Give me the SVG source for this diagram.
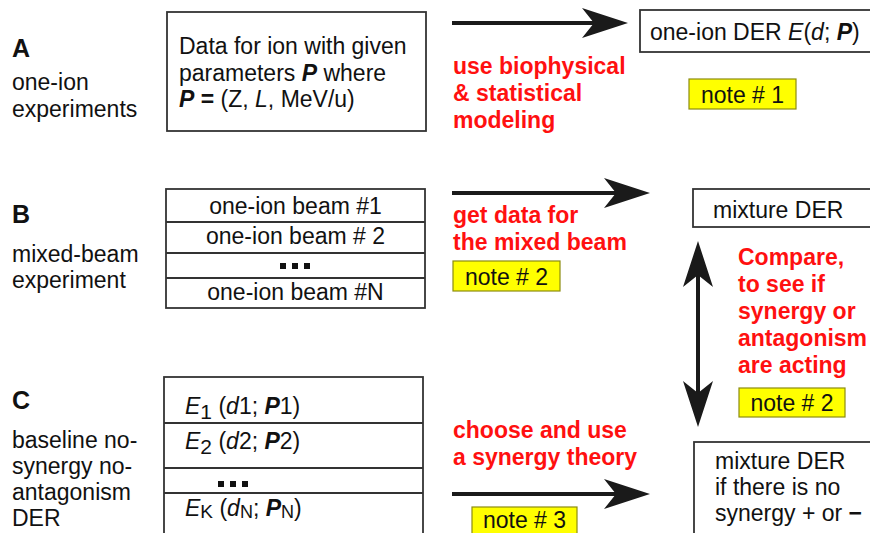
<svg xmlns="http://www.w3.org/2000/svg" width="870" height="533" viewBox="0 0 870 533">
<defs>
<style>
text{font-family:"Liberation Sans",Arial,sans-serif;font-size:23px;fill:#111}
.lab{font-weight:bold;font-size:25px}
.red{fill:#ff1010;font-weight:bold}
.box{fill:#fff;stroke:#333;stroke-width:1.8}
.note{fill:#ffff00;stroke:#8c8c10;stroke-width:1.2}
.arr{stroke:#1a1a1a;stroke-width:4;fill:none}
.i{font-style:italic}
.b{font-weight:bold}
.bi{font-weight:bold;font-style:italic}
.sq{fill:#111}
</style>
<marker id="ah" viewBox="0 0 46 30" refX="21" refY="15" markerWidth="46" markerHeight="30" markerUnits="userSpaceOnUse" orient="auto-start-reverse">
<path d="M0,0 L46,15 L0,30 L12,15 Z" fill="#1a1a1a"/>
</marker>
</defs>
<rect width="870" height="533" fill="#fff"/>

<g id="labelA">
<text x="12" y="57" class="lab">A</text>
<text x="12" y="90">one-ion</text>
<text x="12" y="117">experiments</text>
</g>
<g id="labelB">
<text x="12" y="223" class="lab">B</text>
<text x="12" y="262">mixed-beam</text>
<text x="12" y="288">experiment</text>
</g>
<g id="labelC">
<text x="12" y="409" class="lab">C</text>
<text x="12" y="448">baseline no-</text>
<text x="12" y="474">synergy no-</text>
<text x="12" y="500">antagonism</text>
<text x="12" y="526">DER</text>
</g>

<g id="dataA">
<rect class="box" x="167" y="12" width="259" height="119"/>
<text x="179" y="54">Data for ion with given</text>
<text x="179" y="81">parameters <tspan class="bi">P</tspan> where</text>
<text x="179" y="107"><tspan class="bi">P</tspan><tspan class="b"> =</tspan> (Z, <tspan class="i">L</tspan>, MeV/u)</text>
</g>

<g id="beamTable">
<rect class="box" x="166" y="189" width="259" height="119"/>
<line class="box" x1="166" y1="222" x2="425" y2="222"/>
<line class="box" x1="166" y1="253" x2="425" y2="253"/>
<line class="box" x1="166" y1="278" x2="425" y2="278"/>
<text x="295.5" y="214" text-anchor="middle">one-ion beam #1</text>
<text x="295.5" y="244" text-anchor="middle">one-ion beam # 2</text>
<rect class="sq" x="280" y="263" width="6" height="6"/>
<rect class="sq" x="292" y="263" width="6" height="6"/>
<rect class="sq" x="304" y="263" width="6" height="6"/>
<text x="295.5" y="300" text-anchor="middle">one-ion beam #N</text>
</g>

<g id="derTable">
<rect class="box" x="164" y="377" width="259" height="170"/>
<line class="box" x1="164" y1="423" x2="423" y2="423"/>
<line class="box" x1="164" y1="468" x2="423" y2="468"/>
<line class="box" x1="164" y1="493" x2="423" y2="493"/>
<text x="185" y="414"><tspan class="i">E</tspan><tspan font-size="21" dy="5">1</tspan><tspan dy="-5"> (</tspan><tspan class="i">d</tspan>1; <tspan class="bi">P</tspan>1)</text>
<text x="185" y="449"><tspan class="i">E</tspan><tspan font-size="21" dy="5">2</tspan><tspan dy="-5"> (</tspan><tspan class="i">d</tspan>2; <tspan class="bi">P</tspan>2)</text>
<rect class="sq" x="218" y="481" width="6" height="6"/>
<rect class="sq" x="230" y="481" width="6" height="6"/>
<rect class="sq" x="242" y="481" width="6" height="6"/>
<text x="185" y="516"><tspan class="i">E</tspan><tspan font-size="19" dy="2">K</tspan><tspan dy="-2"> (</tspan><tspan class="i">d</tspan><tspan font-size="18" dy="2">N</tspan><tspan dy="-2">; </tspan><tspan class="bi">P</tspan><tspan font-size="18" dy="2">N</tspan><tspan dy="-2">)</tspan></text>
</g>

<g id="oneIonDER">
<rect class="box" x="640" y="10" width="240" height="42"/>
<text x="650" y="40">one-ion DER <tspan class="i">E</tspan>(<tspan class="i">d</tspan>; <tspan class="bi">P</tspan>)</text>
</g>

<g id="mixtureDER">
<rect class="box" x="693" y="189" width="190" height="38"/>
<text x="713" y="218">mixture DER</text>
</g>

<g id="mixtureNoSynergy">
<rect class="box" x="694" y="442" width="190" height="110"/>
<text x="715" y="469">mixture DER</text>
<text x="715" y="495">if there is no</text>
<text x="715" y="521">synergy + or <tspan class="b">−</tspan></text>
</g>

<g id="note1">
<rect class="note" x="689" y="79" width="107" height="30"/>
<text x="742.5" y="103" text-anchor="middle">note # 1</text>
</g>
<g id="note2a">
<rect class="note" x="453" y="261" width="107" height="30"/>
<text x="506.5" y="285" text-anchor="middle">note # 2</text>
</g>
<g id="note2b">
<rect class="note" x="739" y="388" width="106" height="29"/>
<text x="792" y="411" text-anchor="middle">note # 2</text>
</g>
<g id="note3">
<rect class="note" x="472" y="507" width="105" height="40"/>
<text x="524.5" y="528" text-anchor="middle">note # 3</text>
</g>

<g id="redLabels">
<text class="red" x="453" y="74">use biophysical</text>
<text class="red" x="453" y="101">&amp; statistical</text>
<text class="red" x="453" y="128">modeling</text>
<text class="red" x="453" y="223">get data for</text>
<text class="red" x="453" y="250">the mixed beam</text>
<text class="red" x="738" y="265">Compare,</text>
<text class="red" x="738" y="292">to see if</text>
<text class="red" x="738" y="319">synergy or</text>
<text class="red" x="738" y="346">antagonism</text>
<text class="red" x="738" y="373">are acting</text>
<text class="red" x="453" y="438">choose and use</text>
<text class="red" x="453" y="465">a synergy theory</text>
</g>

<g id="connectors">
<line class="arr" x1="452" y1="23" x2="603" y2="23" marker-end="url(#ah)"/>
<line class="arr" x1="452" y1="193" x2="625" y2="193" marker-end="url(#ah)"/>
<line class="arr" x1="452" y1="494" x2="625" y2="494" marker-end="url(#ah)"/>
<line class="arr" x1="698" y1="266" x2="698" y2="402" marker-start="url(#ah)" marker-end="url(#ah)"/>
</g>
</svg>
